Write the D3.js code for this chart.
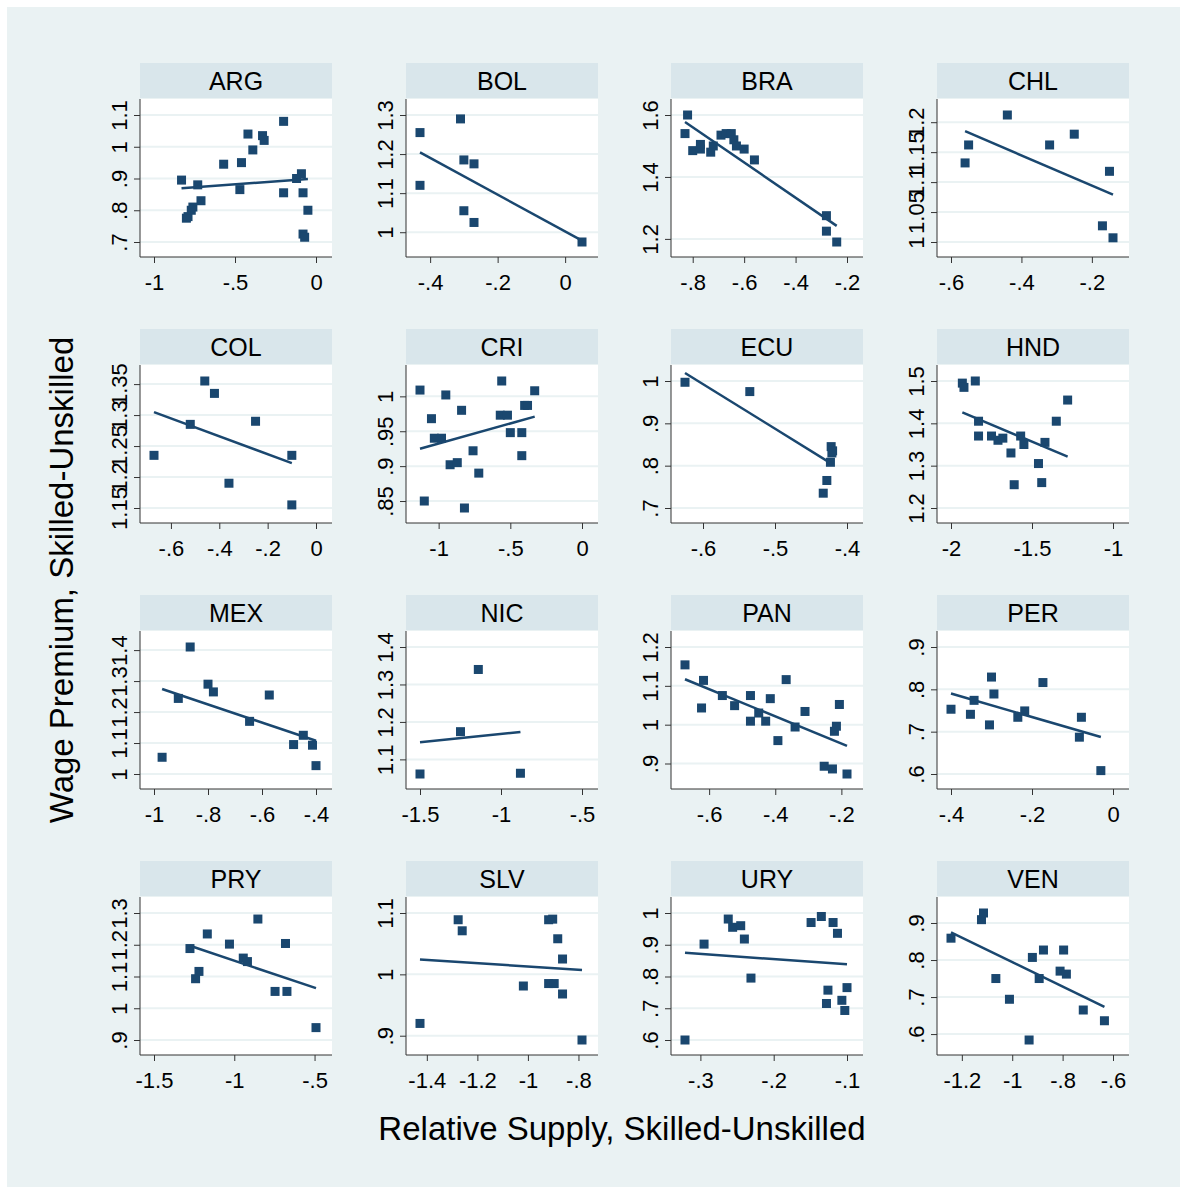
<!DOCTYPE html>
<html>
<head>
<meta charset="utf-8">
<script src="https://cdn.jsdelivr.net/npm/d3@7"></script>
<style>
  body { margin: 0; background: #fff; }
  text { font-family: "Liberation Sans", Arial, sans-serif; fill: #000; }
</style>
</head>
<body>
<div id="chart"></div>
<script>
// country panels, in drawing order
var countries = ["ARG","BOL","BRA","CHL","COL","CRI","ECU","HND","MEX","NIC","PAN","PER","PRY","SLV","URY","VEN"];

// [relative supply, wage premium]
var ARG = [[-0.83,0.895],[-0.80,0.775],[-0.79,0.78],[-0.77,0.80],[-0.76,0.81],[-0.73,0.88],[-0.71,0.83],[-0.57,0.945],[-0.47,0.865],[-0.46,0.95],[-0.42,1.04],[-0.39,0.99],[-0.33,1.035],[-0.32,1.02],[-0.20,1.08],[-0.20,0.855],[-0.12,0.90],[-0.09,0.915],[-0.08,0.855],[-0.08,0.725],[-0.07,0.715],[-0.05,0.80]];
var BOL = [[-0.43,1.255],[-0.43,1.12],[-0.31,1.29],[-0.30,1.185],[-0.30,1.055],[-0.27,1.175],[-0.27,1.025],[0.05,0.975]];
var BRA = [[-0.83,1.54],[-0.82,1.60],[-0.80,1.485],[-0.77,1.49],[-0.77,1.505],[-0.73,1.48],[-0.72,1.50],[-0.69,1.535],[-0.67,1.54],[-0.65,1.54],[-0.64,1.52],[-0.63,1.50],[-0.60,1.49],[-0.56,1.455],[-0.28,1.275],[-0.28,1.225],[-0.24,1.19]];
var CHL = [[-0.56,1.132],[-0.55,1.162],[-0.44,1.212],[-0.32,1.162],[-0.25,1.18],[-0.17,1.027],[-0.15,1.118],[-0.14,1.007]];
var COL = [[-0.67,1.235],[-0.52,1.285],[-0.46,1.355],[-0.42,1.335],[-0.36,1.19],[-0.25,1.29],[-0.10,1.235],[-0.10,1.155]];
var CRI = [[-1.13,1.009],[-1.10,0.85],[-1.05,0.968],[-1.03,0.94],[-0.98,0.94],[-0.95,1.002],[-0.92,0.902],[-0.87,0.905],[-0.84,0.98],[-0.82,0.84],[-0.76,0.922],[-0.72,0.89],[-0.56,1.022],[-0.57,0.973],[-0.52,0.973],[-0.50,0.948],[-0.42,0.948],[-0.42,0.915],[-0.40,0.987],[-0.38,0.987],[-0.33,1.008]];
var ECU = [[-0.625,0.997],[-0.535,0.975],[-0.433,0.735],[-0.428,0.765],[-0.423,0.808],[-0.422,0.845],[-0.421,0.83],[-0.42,0.835]];
var HND = [[-1.93,1.495],[-1.92,1.485],[-1.85,1.50],[-1.83,1.405],[-1.83,1.37],[-1.75,1.37],[-1.71,1.36],[-1.68,1.365],[-1.63,1.33],[-1.61,1.255],[-1.57,1.37],[-1.55,1.35],[-1.46,1.305],[-1.44,1.26],[-1.42,1.355],[-1.35,1.405],[-1.28,1.455]];
var MEX = [[-0.97,1.054],[-0.91,1.244],[-0.866,1.41],[-0.80,1.29],[-0.78,1.265],[-0.646,1.17],[-0.573,1.255],[-0.483,1.095],[-0.447,1.125],[-0.413,1.093],[-0.40,1.027]];
var NIC = [[-1.5,1.061],[-1.25,1.174],[-1.14,1.34],[-0.88,1.063]];
var PAN = [[-0.673,1.154],[-0.617,1.114],[-0.623,1.043],[-0.56,1.075],[-0.523,1.049],[-0.475,1.075],[-0.475,1.009],[-0.45,1.03],[-0.429,1.009],[-0.415,1.067],[-0.392,0.959],[-0.367,1.116],[-0.34,0.994],[-0.31,1.034],[-0.252,0.893],[-0.227,0.886],[-0.221,0.983],[-0.215,0.996],[-0.206,1.052],[-0.183,0.873]];
var PER = [[-0.40,0.753],[-0.352,0.741],[-0.343,0.774],[-0.305,0.716],[-0.30,0.829],[-0.294,0.789],[-0.235,0.734],[-0.218,0.749],[-0.173,0.816],[-0.083,0.687],[-0.078,0.734],[-0.03,0.608]];
var PRY = [[-1.276,1.188],[-1.168,1.234],[-1.241,1.093],[-1.22,1.116],[-1.03,1.202],[-0.944,1.158],[-0.918,1.147],[-0.853,1.281],[-0.746,1.053],[-0.681,1.204],[-0.672,1.053],[-0.491,0.939]];
var SLV = [[-1.427,0.92],[-1.276,1.089],[-1.26,1.071],[-1.018,0.981],[-0.918,1.089],[-0.902,1.09],[-0.918,0.985],[-0.896,0.985],[-0.882,1.058],[-0.863,1.025],[-0.863,0.968],[-0.786,0.893]];
var URY = [[-0.321,0.60],[-0.295,0.902],[-0.262,0.981],[-0.256,0.955],[-0.245,0.96],[-0.24,0.918],[-0.231,0.795],[-0.149,0.97],[-0.135,0.989],[-0.119,0.97],[-0.113,0.936],[-0.126,0.757],[-0.128,0.715],[-0.107,0.725],[-0.103,0.693],[-0.10,0.765]];
var VEN = [[-1.243,0.859],[-1.122,0.909],[-1.114,0.927],[-1.065,0.75],[-1.011,0.694],[-0.92,0.807],[-0.893,0.75],[-0.876,0.827],[-0.933,0.584],[-0.81,0.77],[-0.796,0.827],[-0.785,0.762],[-0.718,0.665],[-0.634,0.636]];

var xTicks = {
  ARG: [-1,-0.5,0], BOL: [-0.4,-0.2,0], BRA: [-0.8,-0.6,-0.4,-0.2], CHL: [-0.6,-0.4,-0.2],
  COL: [-0.6,-0.4,-0.2,0], CRI: [-1,-0.5,0], ECU: [-0.6,-0.5,-0.4], HND: [-2,-1.5,-1],
  MEX: [-1,-0.8,-0.6,-0.4], NIC: [-1.5,-1,-0.5], PAN: [-0.6,-0.4,-0.2], PER: [-0.4,-0.2,0],
  PRY: [-1.5,-1,-0.5], SLV: [-1.4,-1.2,-1,-0.8], URY: [-0.3,-0.2,-0.1], VEN: [-1.2,-1,-0.8,-0.6]
};
var yTicks = {
  ARG: [0.7,0.8,0.9,1,1.1], BOL: [1,1.1,1.2,1.3], BRA: [1.2,1.4,1.6], CHL: [1,1.05,1.1,1.15,1.2],
  COL: [1.15,1.2,1.25,1.3,1.35], CRI: [0.85,0.9,0.95,1], ECU: [0.7,0.8,0.9,1], HND: [1.2,1.3,1.4,1.5],
  MEX: [1,1.1,1.2,1.3,1.4], NIC: [1.1,1.2,1.3,1.4], PAN: [0.9,1,1.1,1.2], PER: [0.6,0.7,0.8,0.9],
  PRY: [0.9,1,1.1,1.2,1.3], SLV: [0.9,1,1.1], URY: [0.6,0.7,0.8,0.9,1], VEN: [0.6,0.7,0.8,0.9]
};
var dataBy = {ARG:ARG,BOL:BOL,BRA:BRA,CHL:CHL,COL:COL,CRI:CRI,ECU:ECU,HND:HND,MEX:MEX,NIC:NIC,PAN:PAN,PER:PER,PRY:PRY,SLV:SLV,URY:URY,VEN:VEN};

var W = 1180, H = 1187;
var navy = "#1a476f", bg = "#eaf2f3", strip = "#d9e6eb";
var pw = 192, ph = 158, stripH = 35;
var colX = [140, 406, 671, 937], rowY = [63, 329, 595, 861];

var svg = d3.select("#chart").append("svg")
    .attr("width", W)
    .attr("height", H);

svg.append("rect").attr("x", 7).attr("y", 7).attr("width", W - 7).attr("height", H - 7).attr("fill", bg);

function fmt(v) {
  var s = String(+v.toFixed(2));
  return s.replace(/^(-?)0\./, "$1.");
}

//simple least squares fit
function fit(pts) {
  var mx = d3.mean(pts, function(d) { return d[0]; }),
      my = d3.mean(pts, function(d) { return d[1]; });
  var sxy = d3.sum(pts, function(d) { return (d[0]-mx)*(d[1]-my); }),
      sxx = d3.sum(pts, function(d) { return (d[0]-mx)*(d[0]-mx); });
  var b = sxy/sxx, a = my - b*mx;
  var ext = d3.extent(pts, function(d) { return d[0]; });
  return ext.map(function(x) { return [x, a + b*x]; });
}

countries.forEach(function(c, i) {
  var pts = dataBy[c];
  var left = colX[i % 4], top = rowY[Math.floor(i / 4)];
  var g = svg.append("g").attr("transform", "translate(" + left + "," + top + ")");

  g.append("rect").attr("width", pw).attr("height", stripH).attr("fill", strip);
  g.append("text")
    .attr("x", pw/2).attr("y", stripH/2 + 9)
    .attr("text-anchor", "middle")
    .style("font-size", "25px")
    .text(c);

  var p = g.append("g").attr("transform", "translate(0," + (stripH + 1) + ")");
  p.append("rect").attr("width", pw).attr("height", ph).attr("fill", "#fff");

  var xe = d3.extent(pts.map(function(d) { return d[0]; }).concat(xTicks[c]));
  var ye = d3.extent(pts.map(function(d) { return d[1]; }).concat(yTicks[c]));
  var x = d3.scaleLinear().domain(xe).range([14, pw - 16]);
  var y = d3.scaleLinear().domain(ye).range([ph - 15, 16]);

  p.selectAll(".grid")
    .data(yTicks[c])
    .enter().append("line")
    .attr("x1", 0).attr("x2", pw)
    .attr("y1", function(d) { return y(d); })
    .attr("y2", function(d) { return y(d); })
    .attr("stroke", bg)
    .attr("stroke-width", 2);

  var xAxis = d3.axisBottom(x).tickValues(xTicks[c]).tickFormat(fmt).tickSize(6).tickSizeOuter(0);
  var yAxis = d3.axisLeft(y).tickValues(yTicks[c]).tickFormat(fmt).tickSize(6).tickSizeOuter(0);

  var gx = p.append("g").attr("transform", "translate(0," + ph + ")").call(xAxis);
  gx.select(".domain").attr("d", "M0,0H" + pw);
  gx.selectAll("text").style("font-size", "22px").attr("dy", "1.1em");

  var gy = p.append("g").call(yAxis);
  gy.select(".domain").attr("d", "M0,0V" + ph);
  gy.selectAll("text")
    .style("font-size", "22px")
    .attr("text-anchor", "middle")
    .attr("x", 0).attr("dy", 0)
    .attr("transform", "translate(-13,0) rotate(-90)");
  p.selectAll(".domain, .tick line").attr("stroke", "#333");

  p.selectAll("rect.pt")
    .data(pts)
    .enter().append("rect")
    .attr("class", "pt")
    .attr("x", function(d) { return x(d[0]) - 4.5; })
    .attr("y", function(d) { return y(d[1]) - 4.5; })
    .attr("width", 9).attr("height", 9)
    .attr("fill", navy);

  p.append("path")
    .datum(fit(pts))
    .attr("d", d3.line().x(function(d) { return x(d[0]); }).y(function(d) { return y(d[1]); }))
    .attr("stroke", navy)
    .attr("stroke-width", 2.5)
    .attr("fill", "none");
});

svg.append("text")
  .attr("transform", "translate(73,580) rotate(-90)")
  .attr("text-anchor", "middle")
  .style("font-size", "33px")
  .text("Wage Premium, Skilled-Unskilled");

svg.append("text")
  .attr("x", 622).attr("y", 1140)
  .attr("text-anchor", "middle")
  .style("font-size", "33px")
  .text("Relative Supply, Skilled-Unskilled");
</script>
</body>
</html>
